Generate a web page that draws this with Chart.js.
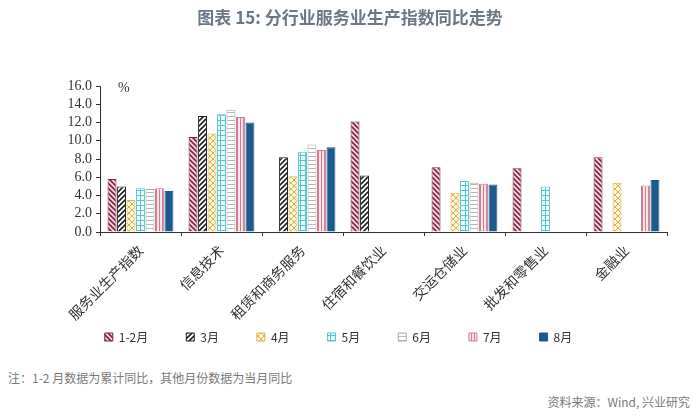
<!DOCTYPE html>
<html>
<head>
<meta charset="utf-8">
<script src="https://cdn.jsdelivr.net/npm/chart.js@4/dist/chart.umd.min.js"></script>
<style>
    html, body { margin: 0; padding: 0; background: #fff; }
    #wrap { position: relative; width: 700px; height: 420px; overflow: hidden; font-family: 'Noto Sans CJK SC', 'Noto Sans', sans-serif; }
    #title { position: absolute; top: 4px; left: 0; width: 700px; text-align: center; font-size: 17px; font-weight: bold; color: #6a7888; }
    #chartBox { position: absolute; top: 0; left: 0; width: 700px; height: 353px; }
    #unit { position: absolute; left: 118px; top: 80px; font-family: 'Liberation Serif', serif; font-size: 14px; color: #333; }
    #note { position: absolute; left: 8px; top: 369px; font-size: 12px; color: #7a7a7a; }
    #source { position: absolute; right: 10px; top: 393px; font-size: 12px; color: #7a7a7a; }
</style>
</head>
<body>
<div id="wrap">
    <div id="chartBox"><canvas id="industryChart"></canvas></div>
    <div id="title">图表 15: 分行业服务业生产指数同比走势</div>
    <div id="unit">%</div>
    <div id="note">注：1-2 月数据为累计同比，其他月份数据为当月同比</div>
    <div id="source">资料来源：Wind, 兴业研究</div>
</div>
<script>
(function () {
    'use strict';

    const categories = ['服务业生产指数', '信息技术', '租赁和商务服务', '住宿和餐饮业', '交运仓储业', '批发和零售业', '金融业'];
    const months = ['1-2月', '3月', '4月', '5月', '6月', '7月', '8月'];

    const janFeb = [5.8, 10.4, null, 12.1, 7.1, 7.0, 8.2];
    const mar = [5.0, 12.7, 8.2, 6.2, null, null, null];
    const apr = [3.5, 10.8, 6.1, null, 4.3, null, 5.4];
    const may = [4.8, 12.9, 8.8, null, 5.6, 5.0, null];
    const jun = [4.7, 13.4, 9.6, null, 5.4, null, null];
    const jul = [4.8, 12.6, 9.0, null, 5.3, null, 5.1];
    const aug = [4.5, 12.0, 9.3, null, 5.2, null, 5.7];

    const yTicks = [0, 2, 4, 6, 8, 10, 12, 14, 16];

    function makePattern(size, bg, fg, lw, draw) {
        const c = document.createElement('canvas');
        c.width = size;
        c.height = size;
        const ctx = c.getContext('2d');
        ctx.fillStyle = bg;
        ctx.fillRect(0, 0, size, size);
        ctx.strokeStyle = fg;
        ctx.lineWidth = lw;
        ctx.beginPath();
        draw(ctx, size);
        ctx.stroke();
        return ctx.createPattern(c, 'repeat');
    }

    function back(ctx, s) {
        ctx.moveTo(-1, -1); ctx.lineTo(s + 1, s + 1);
        ctx.moveTo(s - 1, -1); ctx.lineTo(s + 1, 1);
        ctx.moveTo(-1, s - 1); ctx.lineTo(1, s + 1);
    }

    function fwd(ctx, s) {
        ctx.moveTo(-1, s + 1); ctx.lineTo(s + 1, -1);
        ctx.moveTo(-1, 1); ctx.lineTo(1, -1);
        ctx.moveTo(s - 1, s + 1); ctx.lineTo(s + 1, s - 1);
    }

    const fills = [
        makePattern(5, '#f6d6de', '#7d2443', 1.6, back),
        makePattern(5, '#ffffff', '#222222', 1.6, fwd),
        makePattern(6, '#fff7dc', '#d9b24a', 1, function (ctx, s) { back(ctx, s); fwd(ctx, s); }),
        makePattern(5, '#eefcfd', '#55c3cc', 1, function (ctx, s) {
            ctx.moveTo(0.5, 0); ctx.lineTo(0.5, s);
            ctx.moveTo(0, 0.5); ctx.lineTo(s, 0.5);
        }),
        makePattern(4, '#ffffff', '#b8b8b8', 1, function (ctx, s) {
            ctx.moveTo(0, 0.5); ctx.lineTo(s, 0.5);
        }),
        makePattern(3, '#fbe6ec', '#d27a92', 1, function (ctx, s) {
            ctx.moveTo(0.5, 0); ctx.lineTo(0.5, s);
        }),
        '#1f5a8c',
    ];
    const borders = ['#7d2443', '#222222', '#d9b24a', '#55c3cc', '#a8a8a8', '#d27a92', '#1f5a8c'];
    const series = [janFeb, mar, apr, may, jun, jul, aug];

    const datasets = series.map(function (data, i) {
        return {
            label: months[i],
            data: data,
            backgroundColor: fills[i],
            borderColor: borders[i],
            borderWidth: 1,
            categoryPercentage: 0.82,
            barPercentage: 0.94,
        };
    });

    const serifFont = { family: "'Liberation Serif', serif", size: 14 };
    // legend padding also sets its height, so widen the items with trailing spaces
    const legendGap = '\u3000\u3000\u2002';

    new Chart(document.getElementById('industryChart'), {
        type: 'bar',
        data: { labels: categories, datasets: datasets },
        options: {
            responsive: true,
            maintainAspectRatio: false,
            animation: false,
            layout: { padding: { top: 86, left: 40, right: 33, bottom: 0 } },
            plugins: {
                legend: {
                    position: 'bottom',
                    labels: {
                        boxWidth: 8,
                        boxHeight: 8,
                        padding: 8,
                        color: '#333',
                        font: { family: "'Noto Sans CJK SC', sans-serif", size: 12 },
                        generateLabels: function (chart) {
                            const items = Chart.defaults.plugins.legend.labels.generateLabels(chart);
                            items.forEach(function (it) { it.text = it.text + legendGap; });
                            return items;
                        },
                    },
                },
                tooltip: { enabled: false },
            },
            scales: {
                x: {
                    grid: { display: true, drawOnChartArea: false, color: '#333', tickLength: 4 },
                    border: { color: '#333', width: 1 },
                    ticks: {
                        color: '#333',
                        maxRotation: 45,
                        minRotation: 45,
                        autoSkip: false,
                        font: { family: "'Noto Sans CJK SC', sans-serif", size: 14 },
                        padding: 6,
                    },
                    afterFit: function (scale) { scale.height = 91; },
                },
                y: {
                    min: 0,
                    max: 16,
                    afterBuildTicks: function (scale) {
                        scale.ticks = yTicks.map(function (v) { return { value: v }; });
                    },
                    grid: { display: true, drawOnChartArea: false, color: '#333', tickLength: 4 },
                    border: { color: '#333', width: 1 },
                    ticks: {
                        color: '#333',
                        font: serifFont,
                        padding: 4,
                        autoSkip: false,
                        callback: function (v) { return Number(v).toFixed(1); },
                    },
                    afterFit: function (scale) { scale.width = 60; },
                },
            },
        },
    });
})();
</script>
</body>
</html>
